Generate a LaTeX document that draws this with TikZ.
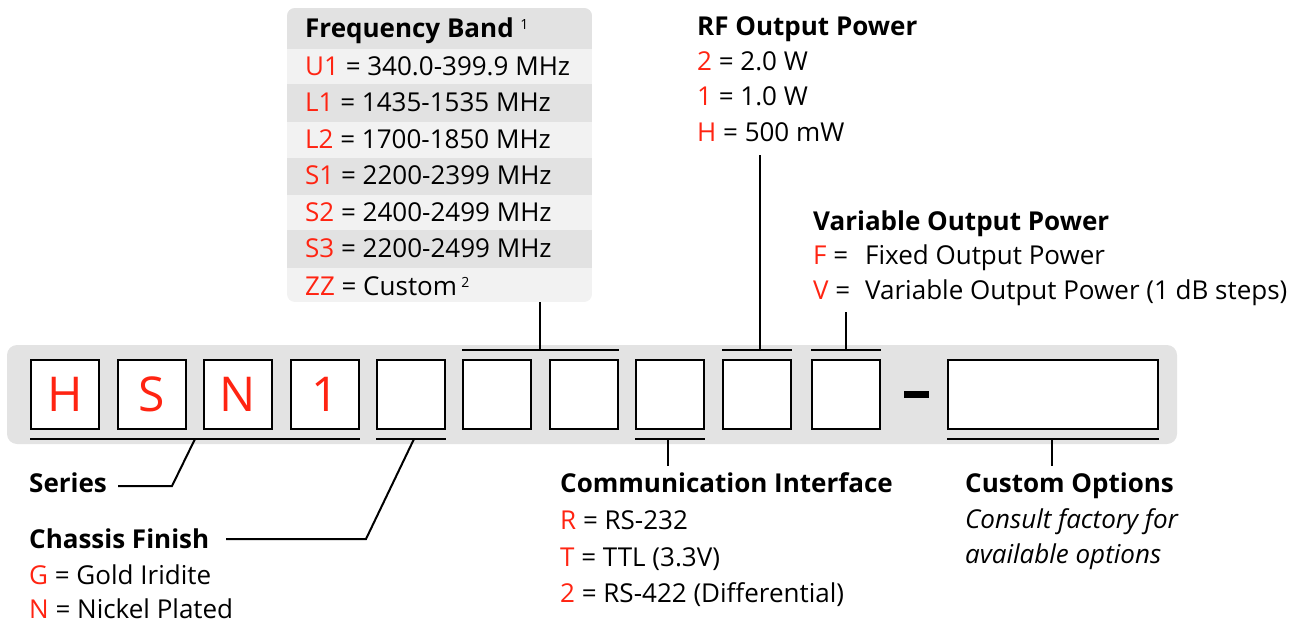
\documentclass[tikz,border=0pt]{standalone}
\usepackage{fontspec}
\setmainfont{Open Sans}
\usepackage{xcolor}

\definecolor{keyred}{HTML}{FF2412}
\definecolor{stripgray}{HTML}{E3E3E3}
\definecolor{rowlight}{HTML}{F2F2F2}
\definecolor{rowdark}{HTML}{E2E2E2}

\newcommand{\keyc}[1]{\textcolor{keyred}{#1}}
\newcommand{\supnum}[1]{\raisebox{8pt}{\fontsize{14}{14}\selectfont\mdseries #1}}

\begin{document}
\begin{tikzpicture}[x=1pt,y=-1pt,
        digit/.style={draw,line width=2pt,fill=white,minimum width=68pt,minimum height=69pt,inner sep=0pt,text=keyred,font=\fontsize{48}{48}\selectfont},
        txt/.style={anchor=base west,inner sep=0pt,font=\fontsize{26}{30}\selectfont},
        head/.style={txt,font=\fontsize{26}{30}\selectfont\bfseries},
        lead/.style={line width=2pt}]
        \useasboundingbox (0,0) rectangle (1307,623);

        % part number strip
        \fill[stripgray,rounded corners=10pt] (7,345) rectangle (1177,444);
        \node[digit](h) at (65,394.5) {H};
        \node[digit](s) at (152,394.5) {S};
        \node[digit](n) at (238,394.5) {N};
        \node[digit](one) at (325,394.5) {1};
        \node[digit](fin) at (411,394.5) {};
        \node[digit](bandA) at (497,394.5) {};
        \node[digit](bandB) at (584,394.5) {};
        \node[digit](comm) at (670,394.5) {};
        \node[digit](rf) at (757,394.5) {};
        \node[digit](var) at (846,394.5) {};
        \node[fill=black,minimum width=25pt,minimum height=7pt,inner sep=0pt](dash) at (916.5,394.5) {};
        \node[digit,minimum width=210pt](cust) at (1053,394.5) {};

        % frequency band table
        \begin{scope}
        \clip[rounded corners=8pt] (287,8) rectangle (592,302);
        \fill[rowlight] (287,8) rectangle (592,302);
        \fill[rowdark] (287,8) rectangle (592,49);
        \fill[rowdark] (287,84) rectangle (592,122);
        \fill[rowdark] (287,158) rectangle (592,195);
        \fill[rowdark] (287,230) rectangle (592,268);
        \end{scope}
        \node[head](band) at (305,38) {Frequency Band\ \supnum{1}};
        \node[txt](u1) at (305,76) {\keyc{U1} = 340.0-399.9 MHz};
        \node[txt](l1) at (305,112) {\keyc{L1} = 1435-1535 MHz};
        \node[txt](l2) at (305,149) {\keyc{L2} = 1700-1850 MHz};
        \node[txt](s1) at (305,185) {\keyc{S1} = 2200-2399 MHz};
        \node[txt](s2) at (305,221) {\keyc{S2} = 2400-2499 MHz};
        \node[txt](s3) at (305,257) {\keyc{S3} = 2200-2499 MHz};
        \node[txt](zz) at (305,295) {\keyc{ZZ} = Custom\,\supnum{2}};
        \coordinate(bandTop) at (540,302);
        \coordinate(bandTap) at (540,350);
        \draw[lead] ([yshift=9pt]bandA.north west) -- ([yshift=9pt]bandB.north east);
        \draw[lead] (bandTap) -- (bandTop);

        % rf output power
        \node[head](rfhead) at (697,36) {RF Output Power};
        \node[txt](rf2) at (697,71) {\keyc{2} = 2.0 W};
        \node[txt](rf1) at (697,106) {\keyc{1} = 1.0 W};
        \node[txt](rfh) at (697,142) {\keyc{H} = 500 mW};
        \coordinate(rfTop) at (760,155);
        \coordinate(rfTap) at (760,350);
        \draw[lead] ([yshift=9pt]rf.north west) -- ([yshift=9pt]rf.north east);
        \draw[lead] (rfTap) -- (rfTop);

        % variable output power
        \node[head](varhead) at (813,230) {Variable Output Power};
        \node[txt](varf) at (813,264) {\makebox[52pt][l]{\keyc{F} =}Fixed Output Power};
        \node[txt](varv) at (813,299) {\makebox[52pt][l]{\keyc{V} =}Variable Output Power (1 dB steps)};
        \coordinate(varTop) at (846,312);
        \coordinate(varTap) at (846,350);
        \draw[lead] ([yshift=9pt]var.north west) -- ([yshift=9pt]var.north east);
        \draw[lead] (varTap) -- (varTop);

        % series
        \node[head](series) at (29,492) {Series};
        \coordinate(serTap) at (195,439);
        \coordinate(serKnee) at (172,486);
        \coordinate(serEnd) at (118,486);
        \draw[lead] ([yshift=-9pt]h.south west) -- ([yshift=-9pt]one.south east);
        \draw[lead] (serTap) -- (serKnee) -- (serEnd);

        % chassis finish
        \node[head](chassis) at (29,548) {Chassis Finish};
        \node[txt](gold) at (29,584) {\keyc{G} = Gold Iridite};
        \node[txt](nickel) at (29,618) {\keyc{N} = Nickel Plated};
        \coordinate(finTap) at (414,439);
        \coordinate(finKnee) at (366,539);
        \coordinate(finEnd) at (226,539);
        \draw[lead] ([yshift=-9pt]fin.south west) -- ([yshift=-9pt]fin.south east);
        \draw[lead] (finTap) -- (finKnee) -- (finEnd);

        % communication interface
        \node[head](commhead) at (560,492) {Communication Interface};
        \node[txt](commr) at (560,529) {\keyc{R} = RS-232};
        \node[txt](commt) at (560,566) {\keyc{T} = TTL (3.3V)};
        \node[txt](comm2) at (560,602) {\keyc{2} = RS-422 (Differential)};
        \coordinate(commTap) at (668,439);
        \coordinate(commEnd) at (668,466);
        \draw[lead] ([yshift=-9pt]comm.south west) -- ([yshift=-9pt]comm.south east);
        \draw[lead] (commTap) -- (commEnd);

        % custom options
        \node[head](custhead) at (965,492) {Custom Options};
        \node[txt,font=\fontsize{26}{30}\selectfont\itshape](custa) at (965,528) {Consult factory for};
        \node[txt,font=\fontsize{26}{30}\selectfont\itshape](custb) at (965,563) {available options};
        \coordinate(custTap) at (1052,439);
        \coordinate(custEnd) at (1052,466);
        \draw[lead] ([yshift=-9pt]cust.south west) -- ([yshift=-9pt]cust.south east);
        \draw[lead] (custTap) -- (custEnd);
\end{tikzpicture}
\end{document}
